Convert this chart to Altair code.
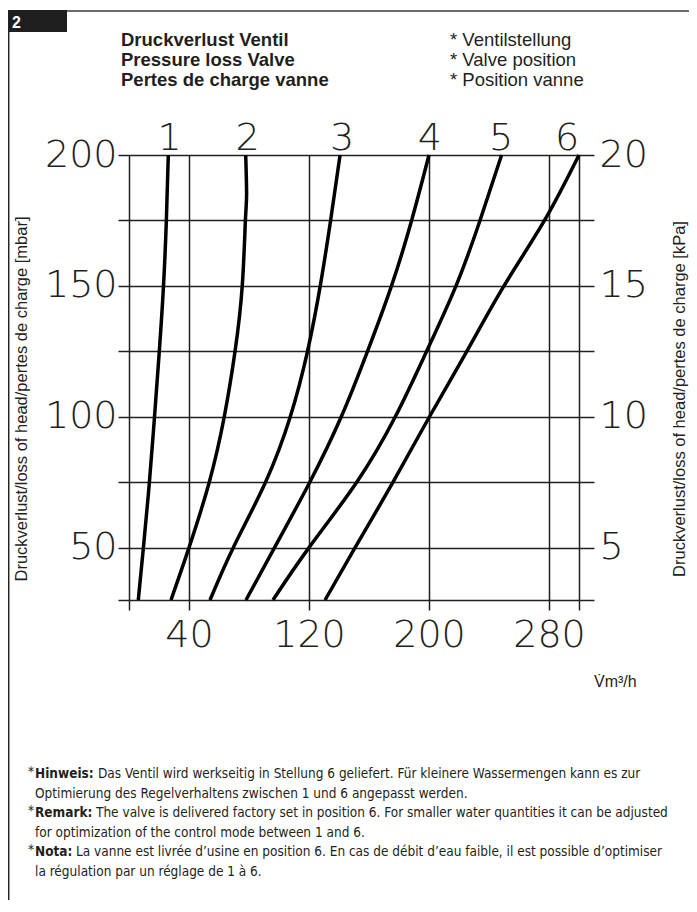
import altair as alt
import pandas as pd

# ---------------- data ----------------
levels = [30, 50, 75, 100, 125, 150, 175, 200]
curve1 = [6.2, 9.6, 13.6, 17.0, 20.2, 23.0, 24.9, 26.2]
levels2 = [30, 50, 75, 100, 125, 150, 175, 185, 200]
curve2 = [28.0, 40.0, 53.5, 63.5, 70.7, 75.5, 77.6, 78.4, 77.8]
curve3 = [54.0, 69.5, 91.0, 107.5, 119.0, 127.5, 134.4, 140.7]
curve4 = [78.0, 97.0, 120.5, 141.5, 159.0, 175.0, 188.4, 200.0]
curve5 = [96.0, 120.0, 151.8, 177.5, 198.4, 218.0, 234.0, 248.4]
curve6 = [130.7, 150.7, 176.0, 200.3, 225.2, 250.0, 277.0, 300.0]

curve_names = ["1", "2", "3", "4", "5", "6"]
curve_label_x = [27, 79, 142, 200.5, 248, 292]

x_ticks = [0, 40, 120, 200, 280, 300]
y_ticks = [30, 50, 75, 100, 125, 150, 175, 200]

header_left = ["Druckverlust Ventil", "Pressure loss Valve", "Pertes de charge vanne"]
header_right = ["* Ventilstellung", "* Valve position", "* Position vanne"]
y_title_left = "Druckverlust/loss of head/pertes de charge [mbar]"
y_title_right = "Druckverlust/loss of head/pertes de charge [kPa]"
x_unit = "V\u0307m³/h"
box_label = "2"

note_bold = ["Hinweis:", "Remark:", "Nota:"]
note_first = [
    "Das Ventil wird werkseitig in Stellung 6 geliefert. Für kleinere Wassermengen kann es  zur",
    "The valve is delivered factory set in position 6. For smaller water quantities it can be adjusted",
    "La vanne est livrée d’usine en position 6. En cas de débit d’eau faible, il est possible d’optimiser",
]
note_second = [
    "Optimierung des Regelverhaltens zwischen 1 und 6 angepasst werden.",
    "for  optimization of the control mode between 1 and 6.",
    "la régulation par un réglage de 1 à 6.",
]

# ---------------- build tables ----------------
rows = []
all_curves = [
    (levels, curve1), (levels2, curve2), (levels, curve3),
    (levels, curve4), (levels, curve5), (levels, curve6),
]
for name, (ys, xs) in zip(curve_names, all_curves):
    for yv, xv in zip(ys, xs):
        rows.append({"curve": name, "q": xv, "p": yv})
df = pd.DataFrame(rows)
labels_df = pd.DataFrame({"curve": curve_names, "q": curve_label_x})

INK = "#231f20"
NUM_FONT = "DejaVu Sans"
NUM_WEIGHT = 200
NUM_SIZE = 38
TXT_FONT = "Liberation Sans"
NOTE_FONT = "DejaVu Sans Condensed"
NOTE_SIZE = 13.5

xscale = alt.Scale(domain=[0, 300], nice=False, zero=False)
yscale = alt.Scale(domain=[30, 200], nice=False, zero=False)

x_axis = alt.Axis(
    values=x_ticks, grid=True, gridColor=INK, gridWidth=1.5, gridOpacity=1,
    domain=False, ticks=True, tickSize=10, tickWidth=1.5, tickColor=INK,
    labelExpr="datum.value == 0 || datum.value == 300 ? '' : datum.label",
    labelFont=NUM_FONT, labelFontWeight=NUM_WEIGHT, labelFontSize=NUM_SIZE,
    labelColor=INK, labelBaseline="alphabetic", labelPadding=36,
    labelOverlap=False, labelFlush=False, title=None,
)
x_enc = alt.X("q:Q", scale=xscale, axis=x_axis)

curves = alt.Chart(df).mark_line(
    color="black", strokeWidth=3.5, interpolate="natural"
).encode(
    x=x_enc,
    y=alt.Y(
        "p:Q", scale=yscale,
        axis=alt.Axis(
            orient="left", values=y_ticks, grid=True, gridColor=INK, gridWidth=1.5,
            gridOpacity=1, domain=False, ticks=True, tickSize=11, tickWidth=1.5,
            tickColor=INK,
            labelExpr="datum.value % 50 == 0 ? datum.label : ''",
            labelFont=NUM_FONT, labelFontWeight=NUM_WEIGHT, labelFontSize=NUM_SIZE,
            labelColor=INK, labelPadding=1, labelOverlap=False, labelFlush=False,
            title=None,
        ),
    ),
    detail="curve:N",
    order=alt.Order("p:Q"),
)

right_axis = alt.Chart(df).mark_line(opacity=0).encode(
    x=x_enc,
    y=alt.Y(
        "p:Q", scale=yscale,
        axis=alt.Axis(
            orient="right", values=y_ticks, grid=False, domain=False, ticks=True,
            tickSize=15, tickWidth=1.5, tickColor=INK,
            labelExpr="datum.value % 50 == 0 ? '' + (datum.value / 10) : ''",
            labelFont=NUM_FONT, labelFontWeight=NUM_WEIGHT, labelFontSize=NUM_SIZE,
            labelColor=INK, labelPadding=5, labelOverlap=False, labelFlush=False,
            title=None,
        ),
    ),
    detail="curve:N",
)

curve_labels = alt.Chart(labels_df).mark_text(
    font=NUM_FONT, fontWeight=NUM_WEIGHT, fontSize=NUM_SIZE, color=INK,
    baseline="alphabetic", align="center",
).encode(
    x=x_enc,
    y=alt.value(-5),
    text="curve:N",
)


def txt(s, x, y, size=18, weight="normal", font=TXT_FONT, align="left",
        baseline="alphabetic", angle=0, color=INK):
    return alt.Chart(pd.DataFrame({"t": [s]})).mark_text(
        font=font, fontSize=size, fontWeight=weight, align=align,
        baseline=baseline, angle=angle, color=color,
    ).encode(text="t:N", x=alt.value(x), y=alt.value(y))


one = pd.DataFrame({"a": [0]})
box = alt.Chart(one).mark_rect(color="#1e1e1e").encode(
    x=alt.value(-121), x2=alt.value(-62), y=alt.value(-145), y2=alt.value(-123)
)
top_border = alt.Chart(one).mark_rule(color="#6b6b6b", strokeWidth=2).encode(
    x=alt.value(-62), x2=alt.value(560), y=alt.value(-144)
)
left_border = alt.Chart(one).mark_rule(color="#222", strokeWidth=1.5).encode(
    x=alt.value(-120.3), y=alt.value(-145), y2=alt.value(745)
)

layers = [curves, right_axis, curve_labels, box, top_border, left_border]
layers.append(txt(box_label, -117, -127, size=16, weight="bold", color="white"))

header_base = [-109.3, -89.3, -69.0]
for s, yb in zip(header_left, header_base):
    layers.append(txt(s, -8, yb, size=18.5, weight="bold"))
for s, yb in zip(header_right, header_base):
    layers.append(txt(s, 321, yb, size=18.5))

layers.append(txt(y_title_left, -107, 244, size=16.5, baseline="middle",
                  align="center", angle=270))
layers.append(txt(y_title_right, 551, 244, size=16.5, baseline="middle",
                  align="center", angle=270))
layers.append(txt(x_unit, 465, 532, size=16))

note_y = [619, 658, 697]
first_x = [-31, -33, -53]
for b, f, s, yy, fx in zip(note_bold, note_first, note_second, note_y, first_x):
    layers.append(txt("*", -101, yy - 2, size=NOTE_SIZE, font=NOTE_FONT,
                      baseline="middle"))
    layers.append(txt(b, -94, yy, size=NOTE_SIZE, font=NOTE_FONT, weight="bold",
                      baseline="middle"))
    layers.append(txt(f, fx, yy, size=NOTE_SIZE, font=NOTE_FONT,
                      baseline="middle"))
    layers.append(txt(s, -94, yy + 19.5, size=NOTE_SIZE, font=NOTE_FONT,
                      baseline="middle"))

chart = alt.layer(*layers).resolve_axis(y="independent").properties(
    width=450,
    height=445,
    padding={"left": 121, "top": 147, "right": 110, "bottom": 300},
    autosize=alt.AutoSizeParams(type="none"),
).configure_view(strokeWidth=0).configure(background="white")

chart.save("out.html", embed_options={"renderer": "svg", "actions": False})
